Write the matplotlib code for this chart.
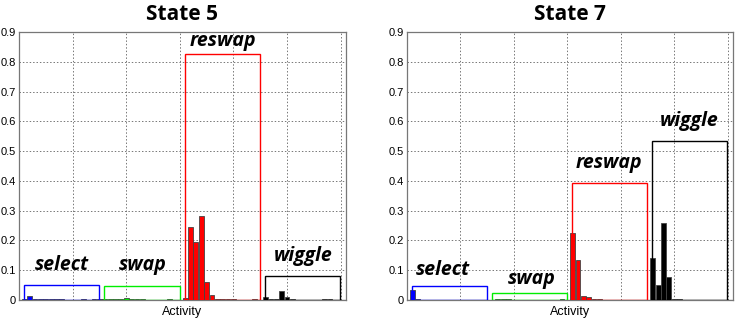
import numpy as np
from matplotlib import pyplot as plt
from matplotlib.patches import Rectangle

# activity groups, 15 activities each
groupNames = ["select", "swap", "reswap", "wiggle"]
groupColors = ["#0000ff", "#00ee00", "#ff0000", "#000000"]

# state 5
state5Select = [0.003, 0.013, 0.003, 0.002, 0.002, 0.002, 0.002, 0.002, 0, 0, 0, 0.004, 0.001, 0.002, 0.002]
state5Swap = [0.002, 0.003, 0.005, 0.004, 0.008, 0.003, 0.003, 0.002, 0, 0, 0, 0, 0.002, 0, 0]
state5Reswap = [0.007, 0.246, 0.194, 0.283, 0.059, 0.017, 0.003, 0.002, 0.002, 0.002, 0, 0, 0, 0.002, 0]
state5Wiggle = [0.010, 0.004, 0.004, 0.031, 0.009, 0.003, 0.001, 0.001, 0.001, 0.001, 0.001, 0.002, 0.002, 0.001, 0.001]
state5Boxes = [0.050, 0.048, 0.826, 0.080]
state5LabelPos = [(8.0, 0.118), (23.0, 0.116), (38.0, 0.870), (53.0, 0.148)]

# state 7
state7Select = [0.035, 0.002, 0, 0, 0, 0, 0, 0, 0, 0, 0, 0, 0, 0, 0]
state7Swap = [0.001, 0.002, 0.003, 0.004, 0, 0, 0, 0, 0, 0, 0, 0, 0, 0.002, 0]
state7Reswap = [0.224, 0.134, 0.013, 0.010, 0.003, 0.003, 0, 0, 0, 0, 0, 0, 0, 0, 0]
state7Wiggle = [0.140, 0.052, 0.258, 0.078, 0.002, 0.002, 0, 0, 0, 0, 0, 0, 0, 0, 0]
state7Boxes = [0.048, 0.025, 0.393, 0.535]
state7LabelPos = [(6.7, 0.100), (23.3, 0.070), (37.7, 0.460), (52.8, 0.600)]

yTicks = [0, 0.1, 0.2, 0.3, 0.4, 0.5, 0.6, 0.7, 0.8, 0.9]
yTickLabels = ["0", "0.1", "0.2", "0.3", "0.4", "0.5", "0.6", "0.7", "0.8", "0.9"]

tickFont = "Liberation Sans"
labelFont = ["Open Sans", "DejaVu Sans"]


def plotState(ax, title, groups, boxes, labelPos):
    for i, values in enumerate(groups):
        x = np.arange(1, 16) + 15 * i
        ax.bar(x, values, 0.9, color=groupColors[i],
               edgecolor="#444444", linewidth=0.6, zorder=3)
        ax.add_patch(Rectangle((15 * i + 0.9, 0), 14.05, boxes[i],
                               fill=False, edgecolor=groupColors[i],
                               linewidth=1.0, zorder=4))
        ax.text(labelPos[i][0], labelPos[i][1], groupNames[i],
                ha="center", va="center", fontsize=14,
                fontweight="bold", fontstyle="italic", family=labelFont,
                zorder=5)

    ax.axhline(0, color="black", linewidth=0.8, zorder=2)
    ax.set_xlim(0, 61)
    ax.set_ylim(0, 0.9)
    ax.set_xticks([10, 20, 30, 40, 50, 60])
    ax.set_xticklabels([])
    ax.set_yticks(yTicks)
    ax.set_yticklabels(yTickLabels, fontsize=8, family=tickFont)
    ax.tick_params(length=0, pad=2)
    ax.grid(True, linestyle=(0, (1.5, 2)), color="#777777", linewidth=0.7)
    for spine in ax.spines.values():
        spine.set_color("#777777")
        spine.set_linewidth(0.9)
    ax.set_xlabel("Activity", fontsize=9, family=tickFont, labelpad=2)
    ax.set_title(title, fontsize=15, fontweight="bold", family=labelFont, pad=9)


fig = plt.figure(figsize=(7.37, 3.19), dpi=100)
axLeft = fig.add_axes([19 / 737, 19 / 319, 327 / 737, 268 / 319])
axRight = fig.add_axes([407 / 737, 19 / 319, 326 / 737, 268 / 319])

plotState(axLeft, "State 5",
          [state5Select, state5Swap, state5Reswap, state5Wiggle],
          state5Boxes, state5LabelPos)
plotState(axRight, "State 7",
          [state7Select, state7Swap, state7Reswap, state7Wiggle],
          state7Boxes, state7LabelPos)

plt.savefig("out.png", dpi=100)
